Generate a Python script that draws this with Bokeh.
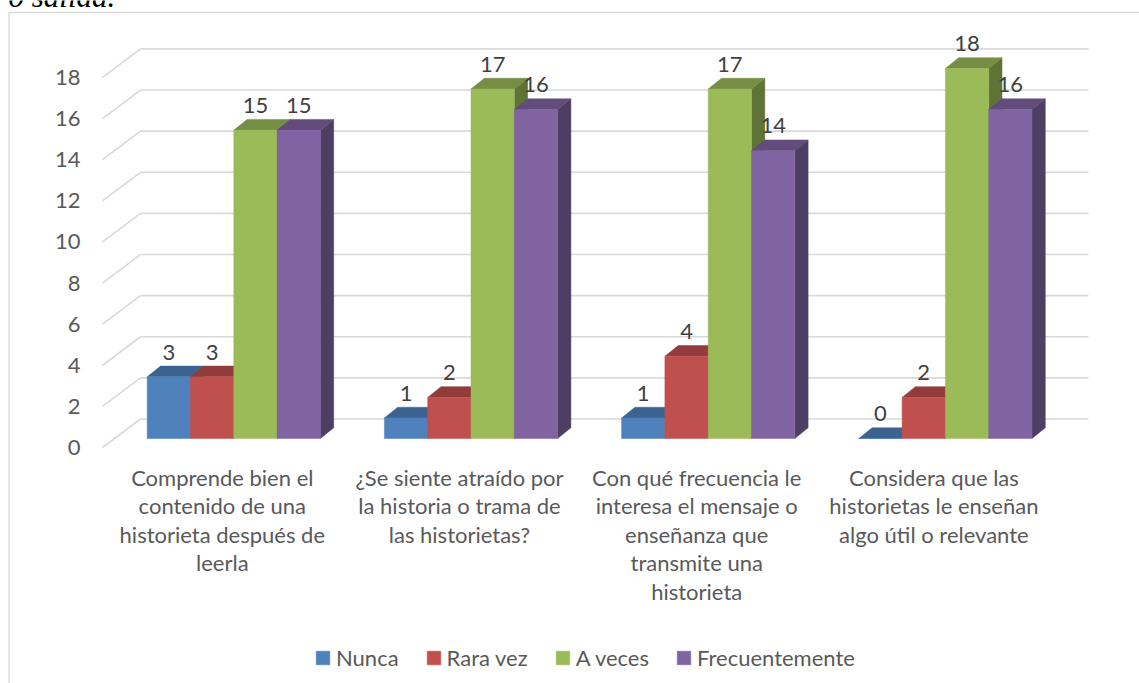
from bokeh.plotting import figure
from bokeh.models import Range1d, FixedTicker, LinearAxis, Legend, LegendItem, ColumnDataSource
from bokeh.core.properties import value
from bokeh.embed import file_html
from bokeh.resources import INLINE

# ---------------- data ----------------
categories = [
    "Comprende bien el\ncontenido de una\nhistorieta después de\nleerla",
    "¿Se siente atraído por\nla historia o trama de\nlas historietas?",
    "Con qué frecuencia le\ninteresa el mensaje o\nenseñanza que\ntransmite una\nhistorieta",
    "Considera que las\nhistorietas le enseñan\nalgo útil o relevante",
]
series_names = ["Nunca", "Rara vez", "A veces", "Frecuentemente"]
nunca = [3, 1, 1, 0]
rara_vez = [3, 2, 4, 2]
a_veces = [15, 17, 17, 18]
frecuentemente = [15, 16, 14, 16]
y_ticks = [0, 2, 4, 6, 8, 10, 12, 14, 16, 18]
caption_fragment = "o salida."

series_values = [nunca, rara_vez, a_veces, frecuentemente]
front_colors = ["#4F81BD", "#C0504D", "#9BBB59", "#8064A2"]


def shade(hexcol, f):
    r, g, b = (int(hexcol[i:i + 2], 16) for i in (1, 3, 5))
    return "#%02X%02X%02X" % (int(r * f), int(g * f), int(b * f))


top_colors = [shade(c, 0.76) for c in front_colors]
side_colors = [shade(c, 0.62) for c in front_colors]

# ---------------- layout (pixel geometry -> data units) ----------------
W, H = 1139, 683
PX0, SX = 233.3, 237.2      # page x of category 0 centre, px per category
PY0, SY = 447.0, 20.56      # page y of value 0 (front plane), px per unit


def dx(px):
    return px / SX


def dy(px):
    return px / SY


def pxx(x):
    return (x - PX0) / SX


def pxy(y):
    return (PY0 - y) / SY


x0, x1 = pxx(0), pxx(W)
y0, y1 = pxy(H), pxy(0)

XF = pxx(102)                # front plane left
XB = pxx(1088)               # back wall right end
DXW, DYW = dx(38), dy(28.5)  # wall depth
BW = dx(43.3)                # bar width
BASE = dy(9)                 # bar front bottom lift
DXB, DYB = dx(13.3), dy(10.7)  # bar depth
FONT = value("Lato")
FS = "22px"
GRAY = "#595959"

p = figure(width=W, height=H, x_range=Range1d(x0, x1), y_range=Range1d(y0, y1),
           x_axis_type=None, y_axis_type=None, toolbar_location=None,
           output_backend="svg", min_border=0, outline_line_color=None,
           background_fill_color="white", border_fill_color="white")

# cropped caption text above the chart (cut off at the top, as in the source)
p.text(x=[pxx(8)], y=[pxy(-4)], text=[caption_fragment], text_align="left",
       text_baseline="alphabetic", text_font=value("Liberation Serif"),
       text_font_style="italic", text_font_size="31px", text_color="#000000")

# outer chart border (left + top)
p.segment(x0=[pxx(8.5), pxx(8.5)], y0=[y0, pxy(12)], x1=[pxx(8.5), x1], y1=[pxy(12), pxy(12)],
          line_color="#D9D9D9", line_width=1.3)

# 3D gridlines
p.segment(x0=[XF] * len(y_ticks), y0=y_ticks,
          x1=[XF + DXW] * len(y_ticks), y1=[t + DYW for t in y_ticks],
          line_color="#D9D9D9", line_width=1.6)
p.segment(x0=[XF + DXW] * len(y_ticks), y0=[t + DYW for t in y_ticks],
          x1=[XB] * len(y_ticks), y1=[t + DYW for t in y_ticks],
          line_color="#D9D9D9", line_width=1.6)

# y axis at the front plane
yax = LinearAxis(ticker=FixedTicker(ticks=y_ticks), fixed_location=XF,
                 axis_line_color=None, major_tick_line_color=None, minor_tick_line_color=None,
                 major_tick_in=0, major_tick_out=0, major_label_standoff=22,
                 major_label_text_font="Lato", major_label_text_font_size=FS,
                 major_label_text_color=GRAY)
p.add_layout(yax, "left")

# bars
legend_items = []
label_x, label_y, label_t = [], [], []
n = len(series_values)
for s, vals in enumerate(series_values):
    xc = [i + (s - (n - 1) / 2) * BW for i in range(len(vals))]
    xl = [c - BW / 2 for c in xc]
    xr = [c + BW / 2 for c in xc]
    yt = [v + BASE for v in vals]
    side_xs = [[r, r + DXB, r + DXB, r] for r in xr]
    side_ys = [[BASE, BASE + DYB, t + DYB, t] for t in yt]
    p.patches(side_xs, side_ys, fill_color=side_colors[s], line_color=side_colors[s], line_width=0.5)
    top_xs = [[l, r, r + DXB, l + DXB] for l, r in zip(xl, xr)]
    top_ys = [[t, t, t + DYB, t + DYB] for t in yt]
    p.patches(top_xs, top_ys, fill_color=top_colors[s], line_color=top_colors[s], line_width=0.5)
    src = ColumnDataSource(dict(x=xc, top=yt, bottom=[BASE] * len(vals)))
    r = p.vbar(x="x", top="top", bottom="bottom", width=BW, source=src,
               fill_color=front_colors[s], line_color=front_colors[s], line_width=0.5)
    legend_items.append(LegendItem(label=series_names[s], renderers=[r]))
    for c, v in zip(xc, vals):
        label_x.append(c)
        label_y.append(v + BASE + DYB + dy(14))
        label_t.append(str(v))

p.text(x=label_x, y=label_y, text=label_t, text_align="center", text_baseline="middle",
       text_font=FONT, text_font_size=FS, text_color="#404040")

# category labels
p.text(x=[i - dx(11.5) for i in range(len(categories))], y=[pxy(463)] * len(categories),
       text=categories, text_align="center", text_baseline="top", text_line_height=1.06,
       text_font=FONT, text_font_size=FS, text_color=GRAY)

legend = Legend(items=legend_items, orientation="horizontal", location=(314, 12),
                padding=0, margin=0, spacing=26, label_standoff=5,
                glyph_width=17, glyph_height=17, label_height=17,
                label_text_font="Lato", label_text_font_size=FS, label_text_color=GRAY,
                border_line_color=None, background_fill_alpha=0)
p.add_layout(legend)

open("out.html", "w").write(file_html(p, INLINE))
